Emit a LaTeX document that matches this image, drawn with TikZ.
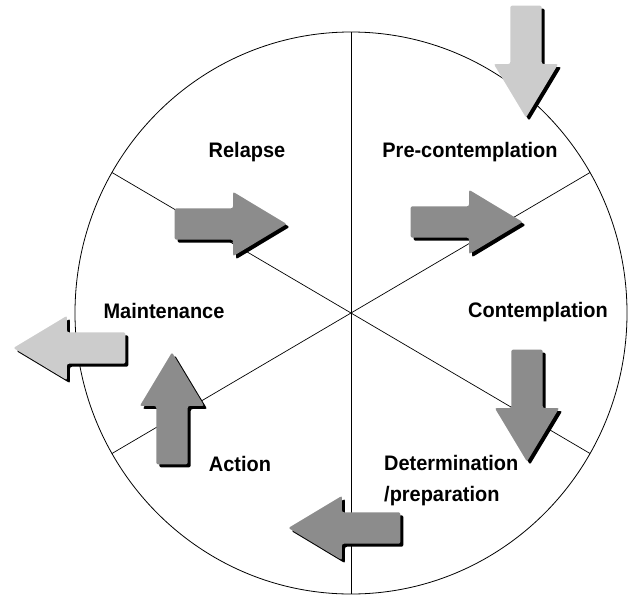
\documentclass[tikz,border=0pt]{standalone}
\usepackage{fontspec}
\setmainfont[FakeStretch=0.95]{Liberation Sans}
\usetikzlibrary{shapes.arrows,shadows}

\definecolor{blockdark}{gray}{0.55}
\definecolor{blocklight}{gray}{0.8}

\tikzset{
    block/.style={single arrow, draw=none, fill=blockdark, anchor=tip,
        inner xsep=0pt, inner ysep=15.5pt, minimum height=112pt,
        single arrow head extend=16.5pt, single arrow tip angle=62, rounded corners=2pt,
        drop shadow={shadow xshift=3pt, shadow yshift=-3pt, opacity=1, fill=black}},
    upright/.style={inner xsep=15.5pt, inner ysep=0pt},
    label/.style={font=\bfseries\fontsize{21}{31}\selectfont, inner sep=0pt, anchor=base}
}

\begin{document}
\begin{tikzpicture}[x=1pt,y=-1pt]
    \useasboundingbox (0,0) rectangle (628,597);

    \coordinate (hub) at (351,313);
    \draw[line width=0.8pt] (hub) ellipse [x radius=276, y radius=281];
    \foreach \a in {30,90,...,330}
        \draw[line width=0.7pt] (hub) -- ++(\a:276 and 281);

    \begin{scope}[every node/.style={block}]
        \node[fill=blocklight, upright, shape border rotate=270] (enter) at (526,118) {};
        \node[shape border rotate=0] (relapsearrow) at (287,224) {};
        \node[shape border rotate=0] (precontarrow) at (523,222) {};
        \node[upright, shape border rotate=270] (contemparrow) at (527,462) {};
        \node[shape border rotate=180] (determarrow) at (288,528) {};
        \node[upright, shape border rotate=90] (actionarrow) at (172,352) {};
        \node[fill=blocklight, shape border rotate=180] (exit) at (13,348) {};
    \end{scope}

    \begin{scope}[every node/.style={label}]
        \node (relapse) at (247,157) {Relapse};
        \node (precont) at (470,157) {Pre-contemplation};
        \node (maint) at (164,318) {Maintenance};
        \node (contemp) at (538,317) {Contemplation};
        \node (action) at (240,471) {Action};
        \node[anchor=north west, align=left] (determ) at (384,455) {Determination\\/preparation};
    \end{scope}

\end{tikzpicture}
\end{document}
